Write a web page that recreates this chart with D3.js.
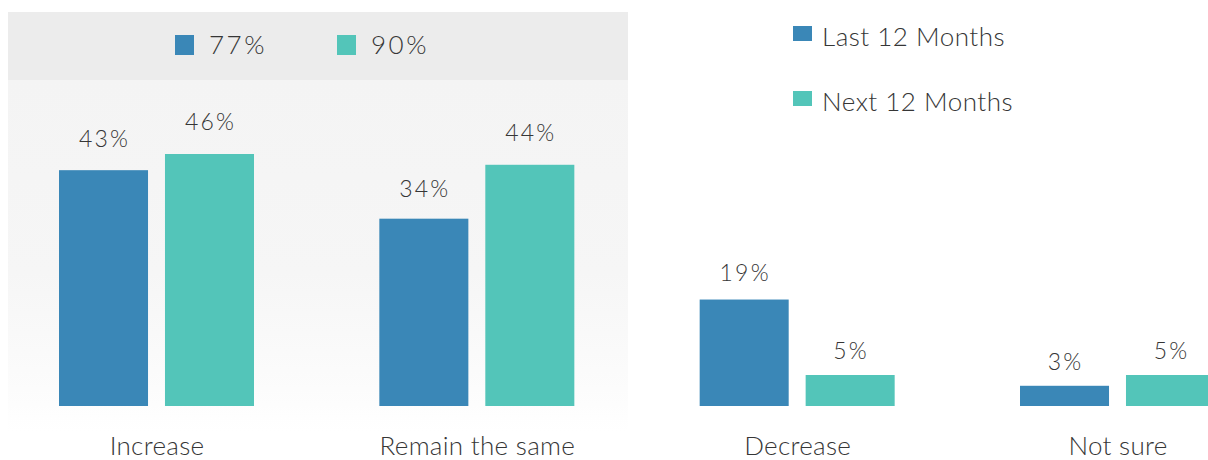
<!DOCTYPE html>
<html>
<head>
<meta charset="utf-8">
<script src="https://cdn.jsdelivr.net/npm/d3@7"></script>
<style>
  html, body { margin: 0; padding: 0; background: #fff; }
  svg { display: block; font-family: Lato, "Open Sans", sans-serif; font-weight: 300; }
</style>
</head>
<body>
<svg id="chart" width="1208" height="460"></svg>
<script>
// Survey answers: change over the last / next 12 months
const categories = ["Increase", "Remain the same", "Decrease", "Not sure"];
const seriesNames = ["Last 12 Months", "Next 12 Months"];
const lastValues = [43, 34, 19, 3];
const nextValues = [46, 44, 5, 5];
const panelLegend = ["77%", "90%"];

const colors = { "Last 12 Months": "#3a87b7", "Next 12 Months": "#53c5b9" };
const textColor = "#363636";

const svg = d3.select("#chart");

// Background panel with darker header band
const defs = svg.append("defs");
const grad = defs.append("linearGradient")
  .attr("id", "panelFade").attr("x1", 0).attr("y1", 0).attr("x2", 0).attr("y2", 1);
grad.append("stop").attr("offset", "0%").attr("stop-color", "#f4f4f4");
grad.append("stop").attr("offset", "55%").attr("stop-color", "#f6f6f6");
grad.append("stop").attr("offset", "88%").attr("stop-color", "#fcfcfc");
grad.append("stop").attr("offset", "100%").attr("stop-color", "#ffffff");

svg.append("rect").attr("x", 8).attr("y", 80).attr("width", 620).attr("height", 352)
  .attr("fill", "url(#panelFade)");
svg.append("rect").attr("x", 8).attr("y", 12).attr("width", 620).attr("height", 68)
  .attr("fill", "#ececec");

// Scales (bars stand on a small foot below zero)
const y = d3.scaleLinear().domain([-0.75, 46]).range([406, 154]);
const baseline = y(-0.75);
// Value labels ride on their own linear scale above the bars
const yLabel = d3.scaleLinear().domain([0, 46]).range([386.5, 130]);
const x0 = d3.scalePoint().domain(categories).range([156.5, 1117.5]);
const x1 = d3.scaleBand().domain(seriesNames).range([-97.5, 97.5]).paddingInner(0.16);

const rows = categories.map((c, i) => ({
  category: c,
  values: [
    { series: seriesNames[0], value: lastValues[i] },
    { series: seriesNames[1], value: nextValues[i] }
  ]
}));

const groups = svg.append("g").selectAll("g")
  .data(rows).join("g")
  .attr("transform", d => `translate(${x0(d.category)},0)`);

groups.selectAll("rect")
  .data(d => d.values).join("rect")
  .attr("x", d => x1(d.series))
  .attr("y", d => y(d.value))
  .attr("width", x1.bandwidth())
  .attr("height", d => baseline - y(d.value))
  .attr("fill", d => colors[d.series]);

groups.selectAll("text.value")
  .data(d => d.values).join("text")
  .attr("class", "value")
  .attr("x", d => x1(d.series) + x1.bandwidth() / 2 + 1)
  .attr("y", d => yLabel(d.value))
  .attr("text-anchor", "middle")
  .attr("font-size", 23)
  .attr("letter-spacing", 2.2)
  .attr("fill", textColor)
  .text(d => d.value + "%");

// Category axis labels
const xAxis = d3.axisBottom(x0).tickSize(0).tickPadding(0);
const axisG = svg.append("g").attr("transform", "translate(0,455)").call(xAxis);
axisG.select(".domain").remove();
axisG.selectAll("text")
  .attr("y", 0).attr("dy", 0)
  .attr("font-size", 26)
  .attr("letter-spacing", 0.3)
  .attr("font-family", "Lato, 'Open Sans', sans-serif")
  .attr("font-weight", 300)
  .attr("fill", textColor);

// Legend inside the header band
const panelLeg = svg.append("g");
const panelX = [175, 337];
panelLegend.forEach((label, i) => {
  const g = panelLeg.append("g").attr("transform", `translate(${panelX[i]},0)`);
  g.append("rect").attr("x", 0).attr("y", 35).attr("width", 19).attr("height", 20)
    .attr("fill", colors[seriesNames[i]]);
  g.append("text").attr("x", 34).attr("y", 54)
    .attr("font-size", 26).attr("letter-spacing", 2.5).attr("fill", textColor).text(label);
});

// Series legend on the right
const leg = svg.append("g").attr("transform", "translate(793,0)");
seriesNames.forEach((name, i) => {
  const yy = 26 + i * 65;
  leg.append("rect").attr("x", 0).attr("y", yy).attr("width", 19).attr("height", 15)
    .attr("fill", colors[name]);
  leg.append("text").attr("x", 29).attr("y", yy + 20)
    .attr("font-size", 26).attr("letter-spacing", 0.5).attr("fill", textColor).text(name);
});
</script>
</body>
</html>
